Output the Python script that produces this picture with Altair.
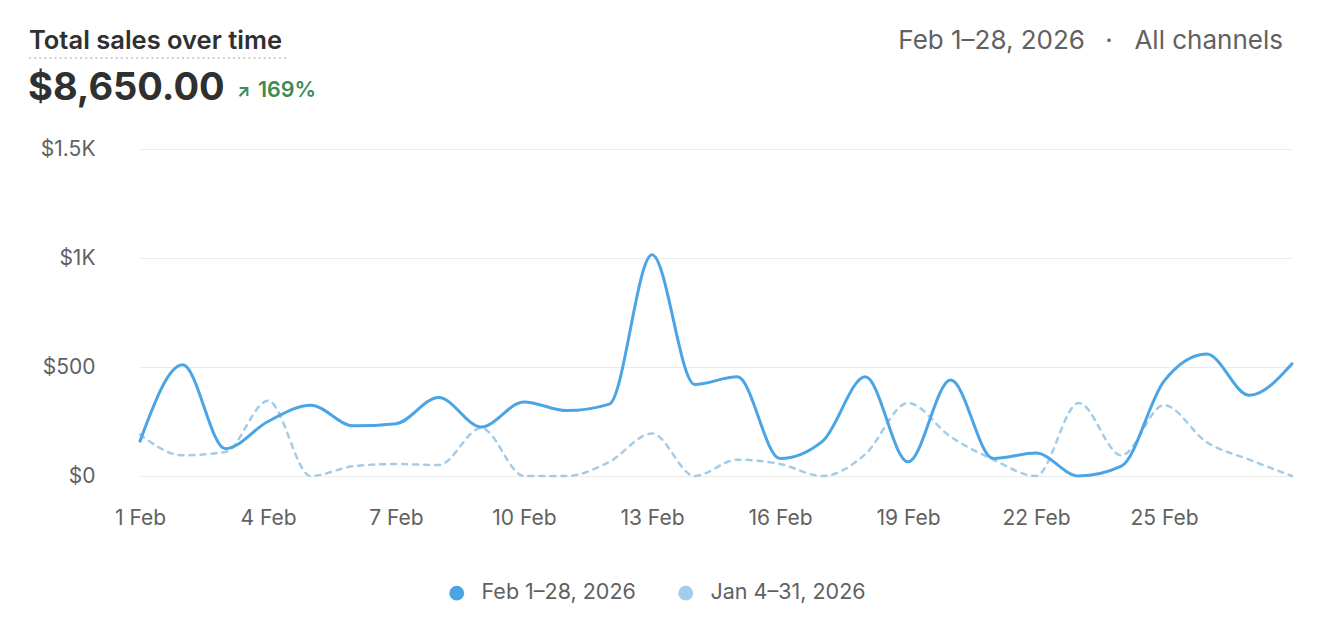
import altair as alt
import pandas as pd

# ---- data ----
days = list(range(1, 29))
feb_sales = [160, 510, 125, 250, 325, 230, 240, 360, 225, 340, 300, 330, 1015, 420,
             455, 80, 160, 455, 65, 440, 80, 105, 0, 45, 435, 560, 370, 515]
jan_sales = [190, 95, 110, 345, 0, 45, 55, 50, 220, 0, 0, 65, 195, 0,
             75, 55, 0, 100, 335, 180, 75, 0, 335, 95, 325, 155, 75, 0]
series_names = ["Feb 1–28, 2026", "Jan 4–31, 2026"]
series_colors = ["#4BA4E4", "#A3CCE8"]
x_tick_days = [1, 4, 7, 10, 13, 16, 19, 22, 25]
y_tick_values = [0, 500, 1000, 1500]

title_text = "Total sales over time"
total_text = "$8,650.00"
change_text = "169%"
range_text = "Feb 1–28, 2026"
channel_text = "All channels"

FONT = "Inter"
GRAY = "#616161"
DARK = "#303030"
GREEN = "#3D8B53"

rows = []
for name, vals in zip(series_names, [feb_sales, jan_sales]):
    for d, v in zip(days, vals):
        rows.append({"day": d, "value": v, "series": name})
df = pd.DataFrame(rows)

x_enc = alt.X(
    "day:Q",
    scale=alt.Scale(domain=[1, 28], nice=False, zero=False),
    axis=alt.Axis(values=x_tick_days, labelExpr="datum.value + ' Feb'", grid=False,
                  ticks=False, domain=False, labelPadding=31, labelFont=FONT,
                  labelFontSize=21, labelColor=GRAY, title=None, labelFlush=False),
)
y_enc = alt.Y(
    "value:Q",
    scale=alt.Scale(domain=[0, 1500], nice=False),
    axis=alt.Axis(values=y_tick_values,
                  labelExpr="datum.value == 0 ? '$0' : (datum.value < 1000 ? '$' + datum.value : '$' + (datum.value / 1000) + 'K')",
                  ticks=False, domain=False, gridColor="#EBEBEB", gridWidth=1,
                  labelPadding=45, labelFont=FONT, labelFontSize=21, labelColor=GRAY,
                  title=None),
)

base = alt.Chart(df)

jan_line = base.transform_filter(alt.datum.series == series_names[1]).mark_line(
    interpolate="monotone", strokeWidth=2.5, strokeDash=[5, 6], strokeCap="round",
    color=series_colors[1]
).encode(x=x_enc, y=y_enc)

feb_line = base.transform_filter(alt.datum.series == series_names[0]).mark_line(
    interpolate="monotone", strokeWidth=3, strokeCap="round", color=series_colors[0]
).encode(x=x_enc, y=y_enc)

legend_layer = base.mark_point(filled=True, opacity=0, size=1).encode(
    x=x_enc, y=y_enc,
    color=alt.Color(
        "series:N",
        scale=alt.Scale(domain=series_names, range=series_colors),
        legend=alt.Legend(title=None, orient="none", legendX=306, legendY=433,
                          direction="horizontal", symbolType="circle", symbolSize=220,
                          symbolOpacity=1, symbolStrokeWidth=0, labelFont=FONT,
                          labelFontSize=21.5, labelColor=GRAY, labelOffset=14,
                          columnPadding=39, padding=0),
    ),
)

one = alt.Data(values=[{"k": 1}])


def txt(s, x, y, size, color, weight=400, align="left"):
    return alt.Chart(one).mark_text(
        font=FONT, fontSize=size, fontWeight=weight, color=color, align=align,
        baseline="alphabetic"
    ).encode(x=alt.value(x), y=alt.value(y), text=alt.value(s))


underline = alt.Chart(one).mark_rule(
    strokeDash=[0.1, 5], strokeWidth=2.2, strokeCap="round", color="#C9C9C9"
).encode(x=alt.value(-110), x2=alt.value(146), y=alt.value(-91))

header = [
    txt(title_text, -111, -100, 25.5, DARK, 600),
    underline,
    txt(total_text, -112, -49, 38, DARK, 700),
    txt("↗", 97, -52, 17, GREEN, 700),
    txt(change_text, 118, -52, 21.5, GREEN, 600),
    txt(channel_text, 1143, -100, 26, GRAY, 400, "right"),
    txt("·", 969, -100, 26, GRAY, 400, "center"),
    txt(range_text, 945, -100, 26, GRAY, 400, "right"),
]

chart = alt.layer(jan_line, feb_line, legend_layer, *header).properties(
    width=1152, height=327,
    autosize="none",
    padding={"left": 140, "top": 149, "right": 50, "bottom": 168},
    background="white",
).configure_view(stroke=None)

chart.save("out.html", embed_options={"renderer": "svg", "actions": False})
